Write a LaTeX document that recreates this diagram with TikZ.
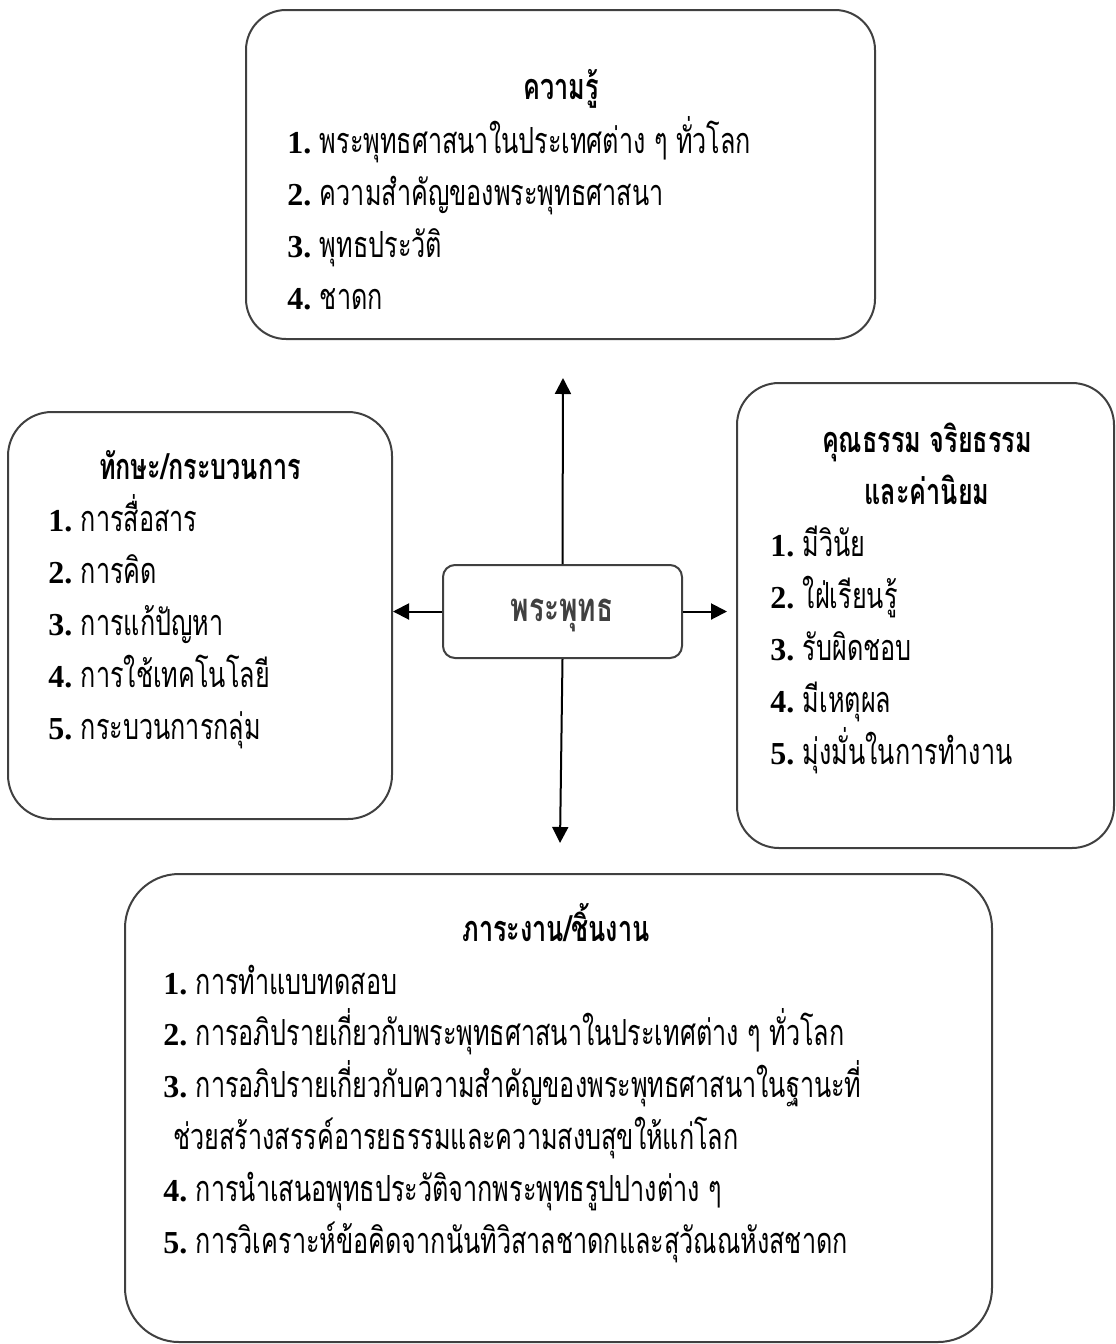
\documentclass[tikz,border=0pt]{standalone}
\usepackage{fontspec}
\setmainfont{Liberation Serif}
\newfontfamily\thaifont[Script=Thai,FakeStretch=0.70]{Loma}
\usetikzlibrary{arrows.meta,positioning}
\definecolor{boxgray}{HTML}{404040}
\newcommand{\nm}[1]{{\rmfamily\bfseries\fontsize{16}{25.9}\selectfont #1}\ }

\begin{document}
\begin{tikzpicture}[x=0.5pt,y=-0.5pt,>={Triangle[length=8pt,width=8pt]},
  box/.style={draw=boxgray,line width=1pt},
  head/.style={font=\fontsize{18}{25.9}\selectfont\thaifont\bfseries,anchor=base,inner sep=0pt,align=center},
  list/.style={font=\fontsize{18}{25.9}\selectfont\thaifont,anchor=base west,inner sep=0pt,align=left},
  link/.style={->,line width=1pt}]

\useasboundingbox (0,0) rectangle (1115,1344);

% the five boxes
\node[box,rounded corners=20pt,minimum width=314.5pt,minimum height=164.5pt] (know)  at (560.5,174.5) {};
\node[box,rounded corners=22pt,minimum width=192pt,minimum height=203.5pt]   (skill) at (200,615.5) {};
\node[box,rounded corners=6pt,minimum width=119.5pt,minimum height=46.5pt]   (buddha) at (562.5,611.5) {};
\node[box,rounded corners=21pt,minimum width=188.5pt,minimum height=232.5pt] (moral) at (925.5,615.5) {};
\node[box,rounded corners=27pt,minimum width=433.5pt,minimum height=234pt]   (task)  at (558.5,1108) {};

% texts (base of a list node = base of its last line)
\node[head] (knowT) at (561,99) {ความรู้};
\node[list] (knowL) at (287,309) {\nm{1.}พระพุทธศาสนาในประเทศต่าง ๆ ทั่วโลก\\
  \nm{2.}ความสำคัญของพระพุทธศาสนา\\
  \nm{3.}พุทธประวัติ\\
  \nm{4.}ชาดก};

\node[head] (skillT) at (200,479) {ทักษะ/กระบวนการ};
\node[list] (skillL) at (48,739) {\nm{1.}การสื่อสาร\\
  \nm{2.}การคิด\\
  \nm{3.}การแก้ปัญหา\\
  \nm{4.}การใช้เทคโนโลยี\\
  \nm{5.}กระบวนการกลุ่ม};

\node[head,text=boxgray,font=\fontsize{20}{22}\selectfont\thaifont\bfseries] (buddhaT) at (562,621) {พระพุทธ};

\node[head] (moralT) at (927,504) {คุณธรรม จริยธรรม\\และค่านิยม};
\node[list] (moralL) at (770,764) {\nm{1.}มีวินัย\\
  \nm{2.}ใฝ่เรียนรู้\\
  \nm{3.}รับผิดชอบ\\
  \nm{4.}มีเหตุผล\\
  \nm{5.}มุ่งมั่นในการทำงาน};

\node[head] (taskT) at (556,941) {ภาระงาน/ชิ้นงาน};
\node[list] (taskL) at (163,1253) {\nm{1.}การทำแบบทดสอบ\\
  \nm{2.}การอภิปรายเกี่ยวกับพระพุทธศาสนาในประเทศต่าง ๆ ทั่วโลก\\
  \nm{3.}การอภิปรายเกี่ยวกับความสำคัญของพระพุทธศาสนาในฐานะที่\\
  \hspace*{5pt}ช่วยสร้างสรรค์อารยธรรมและความสงบสุขให้แก่โลก\\
  \nm{4.}การนำเสนอพุทธประวัติจากพระพุทธรูปปางต่าง ๆ\\
  \nm{5.}การวิเคราะห์ข้อคิดจากนันทิวิสาลชาดกและสุวัณณหังสชาดก};

% arrows
\coordinate (up) at (563,378);
\coordinate (down) at (560,843);
\path[link] (buddha.north) edge (up)
  (buddha.south) edge (down)
  (buddha.west) edge (buddha.west -| skill.east)
  (buddha.east) edge[shorten >=4.5pt] (buddha.east -| moral.west);
\end{tikzpicture}
\end{document}
